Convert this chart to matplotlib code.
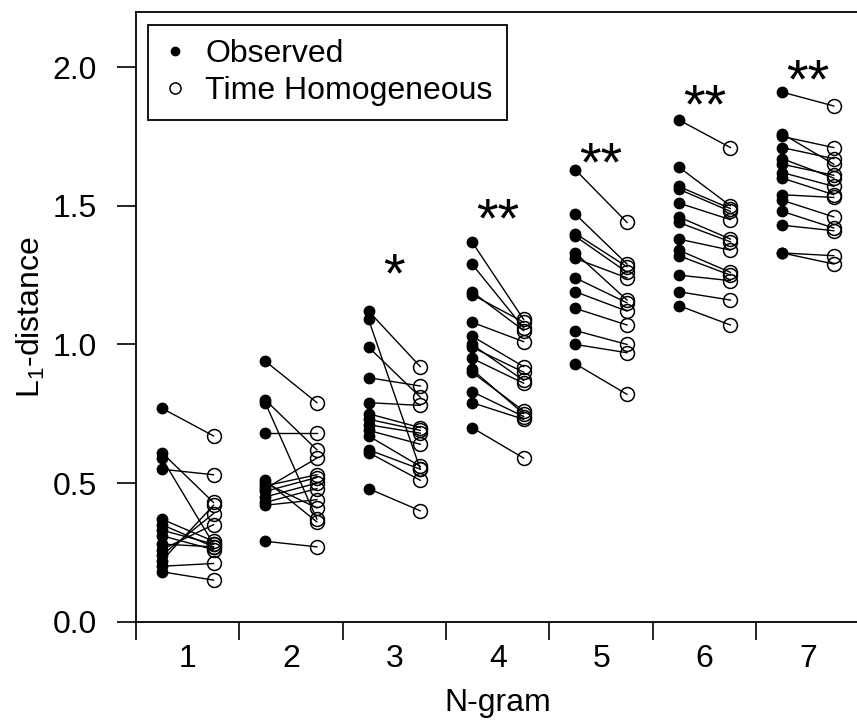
import matplotlib
matplotlib.use("Agg")
import matplotlib.pyplot as plt
import numpy as np

plt.rcParams["font.family"] = ["Liberation Sans", "DejaVu Sans"]
plt.rcParams["mathtext.fontset"] = "custom"
plt.rcParams["mathtext.rm"] = "Liberation Sans"
plt.rcParams["mathtext.it"] = "Liberation Sans"

# paired values per n-gram: observed -> time homogeneous
obs1 = [0.77, 0.61, 0.59, 0.55, 0.37, 0.35, 0.33, 0.31, 0.28, 0.26, 0.24, 0.22, 0.20, 0.18]
th1 = [0.67, 0.43, 0.28, 0.53, 0.29, 0.27, 0.28, 0.26, 0.27, 0.35, 0.39, 0.42, 0.21, 0.15]
obs2 = [0.94, 0.80, 0.79, 0.68, 0.51, 0.50, 0.49, 0.48, 0.47, 0.45, 0.43, 0.42, 0.29]
th2 = [0.79, 0.62, 0.37, 0.68, 0.36, 0.41, 0.53, 0.59, 0.52, 0.50, 0.48, 0.44, 0.27]
obs3 = [1.12, 1.09, 0.99, 0.88, 0.79, 0.75, 0.73, 0.71, 0.69, 0.67, 0.62, 0.61, 0.48]
th3 = [0.92, 0.55, 0.81, 0.85, 0.78, 0.70, 0.69, 0.68, 0.64, 0.56, 0.55, 0.51, 0.40]
obs4 = [1.37, 1.29, 1.19, 1.18, 1.08, 1.03, 1.00, 0.99, 0.95, 0.91, 0.90, 0.83, 0.79, 0.70]
th4 = [1.09, 1.06, 1.05, 1.08, 1.01, 0.92, 0.87, 0.90, 0.86, 0.75, 0.76, 0.74, 0.73, 0.59]
obs5 = [1.63, 1.47, 1.40, 1.39, 1.33, 1.31, 1.24, 1.19, 1.13, 1.05, 1.00, 0.93]
th5 = [1.44, 1.29, 1.28, 1.26, 1.16, 1.24, 1.15, 1.12, 1.07, 1.00, 0.97, 0.82]
obs6 = [1.81, 1.64, 1.57, 1.56, 1.51, 1.46, 1.44, 1.38, 1.34, 1.32, 1.25, 1.19, 1.14]
th6 = [1.71, 1.50, 1.49, 1.48, 1.45, 1.38, 1.37, 1.34, 1.26, 1.25, 1.23, 1.16, 1.07]
obs7 = [1.91, 1.76, 1.75, 1.71, 1.67, 1.65, 1.62, 1.60, 1.54, 1.52, 1.48, 1.43, 1.33, 1.33]
th7 = [1.86, 1.65, 1.71, 1.67, 1.60, 1.61, 1.57, 1.54, 1.53, 1.46, 1.42, 1.41, 1.32, 1.29]

ngrams = [1, 2, 3, 4, 5, 6, 7]
observed = [obs1, obs2, obs3, obs4, obs5, obs6, obs7]
homog = [th1, th2, th3, th4, th5, th6, th7]

# significance marks and where their centres sit
stars = ["", "", "*", "**", "**", "**", "**"]
star_y = [0, 0, 1.30, 1.50, 1.70, 1.91, 2.00]

fig = plt.figure(figsize=(8.57, 7.26), dpi=100)
ax = fig.add_axes([136 / 857, 1 - 621.7 / 726, 723.6 / 857, 610 / 726])

off = 0.25
for g, o, t in zip(ngrams, observed, homog):
    for a, b in zip(o, t):
        ax.plot([g - off, g + off], [a, b], color="black", lw=1.0, zorder=2)
    ax.plot([g - off] * len(o), o, "o", color="black", ms=7.5, zorder=3)
    ax.plot([g + off] * len(t), t, "o", mfc="none", mec="black", mew=1.1, ms=10, zorder=3)

fs = 40
for g, s, y in zip(ngrams, stars, star_y):
    if s:
        ax.annotate(s, (g, y), xytext=(0, -0.55 * fs), textcoords="offset points",
                    ha="center", va="baseline", fontsize=fs)

ax.set_xlim(0.5, 7.5)
ax.set_ylim(0, 2.2)

ax.set_xticks(np.arange(0.5, 8.0, 1.0))
ax.set_xticklabels([])
ax.set_xticks(ngrams, minor=True)
ax.set_xticklabels([str(n) for n in ngrams], minor=True)
ax.tick_params(axis="x", which="major", direction="out", length=13, width=1.2)
ax.tick_params(axis="x", which="minor", length=0, pad=16, labelsize=23)

ax.set_yticks([0.0, 0.5, 1.0, 1.5, 2.0])
ax.set_yticklabels(["0.0", "0.5", "1.0", "1.5", "2.0"])
ax.tick_params(axis="y", direction="out", length=14, width=1.2, pad=14, labelsize=23)

for sp in ax.spines.values():
    sp.set_linewidth(1.3)

ax.set_xlabel("N-gram", fontsize=23, va="center")
ax.xaxis.set_label_coords(0.5, -0.133)
ax.set_ylabel("L$_1$-distance", fontsize=23, va="center")
ax.yaxis.set_label_coords(-0.145, 0.5)

h1, = ax.plot([], [], "o", color="black", ms=6)
h2, = ax.plot([], [], "o", mfc="none", mec="black", mew=1.1, ms=8)
leg = ax.legend([h1, h2], ["Observed", "Time Homogeneous"], loc="upper left",
                bbox_to_anchor=(0.0162, 0.978), borderaxespad=0, fontsize=23,
                fancybox=False, edgecolor="black", framealpha=1,
                handlelength=0.8, handletextpad=0.55, borderpad=0.45, labelspacing=0.2)
leg.get_frame().set_linewidth(1.3)

fig.savefig("out.png", dpi=100)
